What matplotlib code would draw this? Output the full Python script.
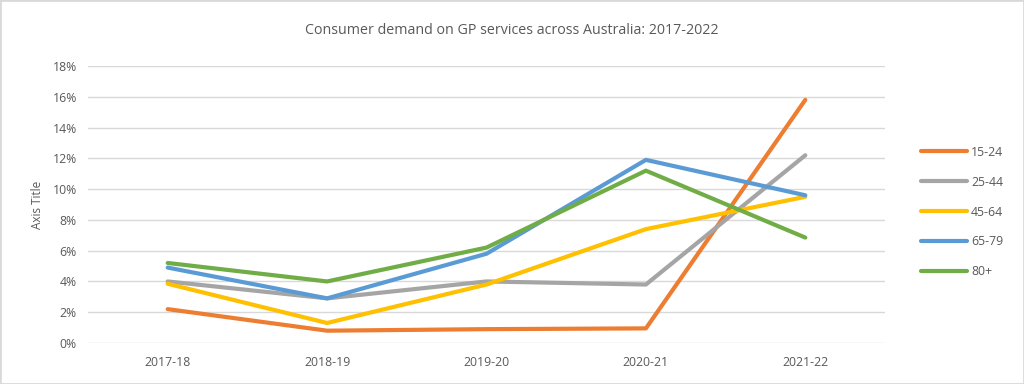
import matplotlib
matplotlib.use("Agg")
from matplotlib import pyplot as plt
from matplotlib.patches import Rectangle

years = ["2017-18", "2018-19", "2019-20", "2020-21", "2021-22"]
age_groups = ["15-24", "25-44", "45-64", "65-79", "80+"]
colores = ["#ED7D31", "#A5A5A5", "#FFC000", "#5B9BD5", "#70AD47"]

d_15_24 = [2.2, 0.8, 0.9, 0.95, 15.8]
d_25_44 = [4.0, 2.9, 4.0, 3.8, 12.2]
d_45_64 = [3.85, 1.3, 3.8, 7.4, 9.5]
d_65_79 = [4.9, 2.9, 5.8, 11.9, 9.6]
d_80 = [5.2, 4.0, 6.2, 11.2, 6.85]
series = [d_15_24, d_25_44, d_45_64, d_65_79, d_80]

plt.rcParams['font.family'] = ['Open Sans', 'DejaVu Sans']
gris = "#595959"

fig = plt.figure(figsize=(10.24, 3.84), dpi=100)
ax = fig.add_axes([88 / 1024, 1 - 343 / 384, 797 / 1024, 277 / 384])

x = list(range(len(years)))
for vals, nombre, c in zip(series, age_groups, colores):
    ax.plot(x, vals, color=c, lw=3, label=nombre, solid_capstyle="round")

ax.set_xlim(-0.5, len(years) - 0.5)
ax.set_ylim(0, 18)
ax.set_yticks(range(0, 19, 2))
ax.set_yticklabels([f"{v}%" for v in range(0, 19, 2)])
ax.set_xticks(x)
ax.set_xticklabels(years)
ax.grid(axis="y", color="#D9D9D9", lw=1)
ax.set_axisbelow(True)
for s in ax.spines.values():
    s.set_visible(False)
ax.tick_params(length=0, labelsize=8.8, labelcolor=gris)
ax.tick_params(axis="y", pad=8)
ax.tick_params(axis="x", pad=9)
ax.set_ylabel("Axis Title", fontsize=8.5, color=gris, labelpad=6)

fig.suptitle("Consumer demand on GP services across Australia: 2017-2022",
             y=1 - 30 / 384, va="center", fontsize=10.3, color=gris)

fig.legend(loc="center left", bbox_to_anchor=(910 / 1024, 1 - 212 / 384),
           frameon=False, fontsize=8.8, labelcolor=gris, handlelength=3.8,
           handletextpad=0.3, labelspacing=1.38)

fig.patches.append(Rectangle((0, 0), 1, 1, transform=fig.transFigure,
                             fill=False, edgecolor="#D9D9D9", lw=2))

plt.savefig("out.png")
plt.close()
